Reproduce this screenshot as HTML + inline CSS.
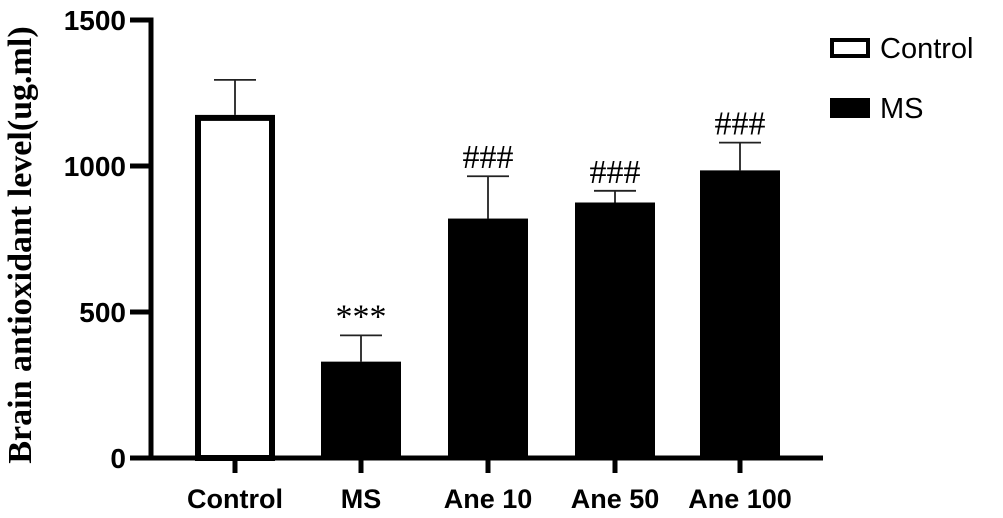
<!DOCTYPE html>
<html><head><style>body{margin:0;background:#fff}svg{display:block}text{font-family:"Liberation Sans",Arial,sans-serif;font-weight:bold}</style></head>
<body>
<svg width="1003" height="518" viewBox="0 0 1003 518">
<g id="plot"></g>
</svg>
<script>
const categories=["Control","MS","Ane 10","Ane 50","Ane 100"];
const values=[1175,330,820,875,985];
const errors=[120,90,145,40,95];
const marks=["","***","###","###","###"];
const yTicks=[0,500,1000,1500];
const ns="http://www.w3.org/2000/svg";
const g=document.getElementById('plot');
const y0=458,yTop=20,yMax=1500;
function y(v){return y0-(y0-yTop)*v/yMax;}
const centers=[235,361,488,615,740];const bw=80;
function mk(t,a,txt){const e=document.createElementNS(ns,t);for(const k in a)e.setAttribute(k,a[k]);if(txt!==undefined)e.textContent=txt;g.appendChild(e);return e;}
categories.forEach((c,i)=>{
 const cx=centers[i],top=y(values[i]),et=y(values[i]+errors[i]);
 let l=mk('line',{x1:cx,y1:top,x2:cx,y2:et,stroke:'#222','stroke-width':1.8});
 
 l=mk('line',{x1:cx-21,y1:et,x2:cx+21,y2:et,stroke:'#222','stroke-width':1.8});
 
 let r;
 if(i===0) r=mk('rect',{x:cx-bw/2+3,y:top+3,width:bw-6,height:y0-top-3,fill:'#fff',stroke:'#000','stroke-width':6});
 else r=mk('rect',{x:cx-bw/2,y:top,width:bw,height:y0-top,fill:'#000'});
 
 if(marks[i]){let t=mk('text',{x:cx,y:et-8,'text-anchor':'middle','font-size':34,style:'font-family:"Liberation Serif",serif;font-weight:normal'},marks[i]);
 }
 let tk=mk('line',{x1:cx,y1:y0,x2:cx,y2:473,stroke:'#000','stroke-width':5});
 
 let lb=mk('text',{x:cx,y:508,'text-anchor':'middle','font-size':27},c);
 
});
yTicks.forEach(v=>{
 let tk=mk('line',{x1:130,y1:y(v),x2:153,y2:y(v),stroke:'#000','stroke-width':5});
 
 let lb=mk('text',{x:126,y:y(v)+10,'text-anchor':'end','font-size':28},String(v));
 
});
let ax=mk('line',{x1:151,y1:17.5,x2:151,y2:460.5,stroke:'#000','stroke-width':5});

ax=mk('line',{x1:148.5,y1:458,x2:823,y2:458,stroke:'#000','stroke-width':5});

let tt=mk('text',{transform:'translate(31,245) rotate(-90)','text-anchor':'middle','font-size':34,style:'font-family:"Liberation Serif",serif'},'Brain antioxidant level(ug.ml)');

let lr=mk('rect',{x:832,y:40,width:36,height:16,fill:'#fff',stroke:'#000','stroke-width':4});

let lt=mk('text',{x:880,y:58,'font-size':29,style:'font-weight:normal'},'Control');

lr=mk('rect',{x:830,y:98,width:40,height:20,fill:'#000'});

lt=mk('text',{x:880,y:118,'font-size':29,style:'font-weight:normal'},'MS');

</script>
</body></html>
